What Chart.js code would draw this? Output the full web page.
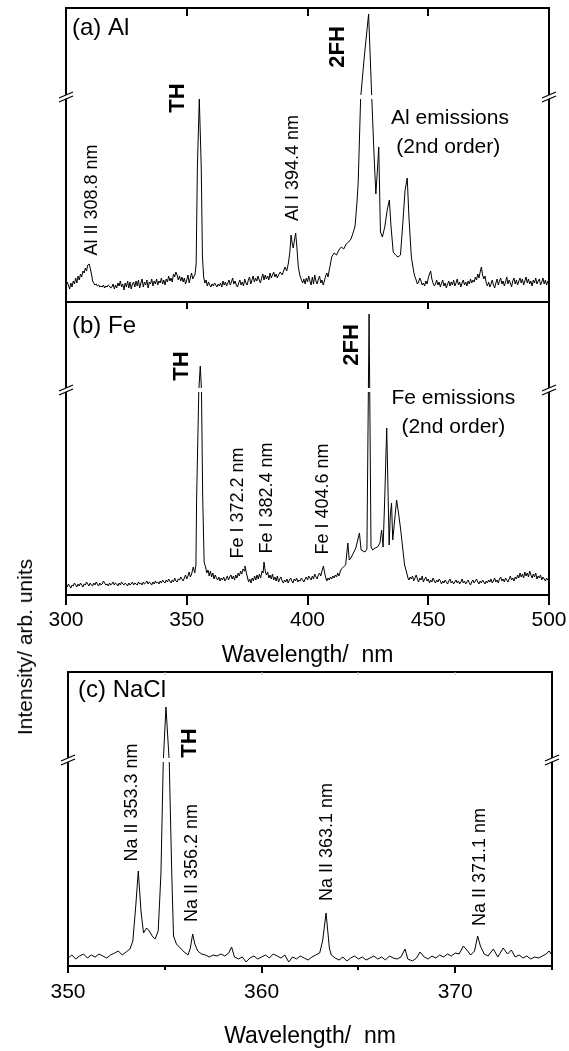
<!DOCTYPE html>
<html><head><meta charset="utf-8">
<script src="https://cdn.jsdelivr.net/npm/chart.js@4"></script>
<style>
html,body{margin:0;padding:0;background:#fff;width:569px;height:1051px;overflow:hidden;position:relative}
canvas{position:absolute;left:0}
#ylab{position:absolute;left:25px;top:647px;transform:translate(-50%,-50%) rotate(-90deg);font:21px "Liberation Sans",Arial,sans-serif;white-space:nowrap;color:#000}
</style></head><body>
<canvas id="ca" width="569" height="310" style="top:0"></canvas>
<canvas id="cb" width="569" height="390" style="top:290px"></canvas>
<canvas id="cc" width="569" height="391" style="top:660px"></canvas>
<div id="ylab">Intensity/ arb. units</div>
<script>
// ---- data: [wavelength nm, intensity (arb.)] ----
const specA = [[300,15],[300.5,20],[301,17],[301.5,13],[302,19],[302.5,15],[303,21],[303.5,18],[304,24],[304.5,19],[305,26],[305.5,22],[306,28],[306.5,25],[307,31],[307.5,29],[308,34],[308.5,31],[309,37],[309.6,38],[310.2,32],[310.7,26],[311,21],[311.5,19],[312,17],[312.5,18],[313,16],[313.5,17],[314,15],[314.5,16],[315,15],[315.5,17],[316,14],[316.5,16],[317,15],[317.5,17],[318,16],[318.5,14],[319,15],[319.5,18],[320,13],[320.5,17],[321,14],[321.5,19],[322,16],[322.5,21],[323,15],[323.5,18],[324,12],[324.5,19],[325,15],[325.5,21],[326,14],[326.5,20],[327,13],[327.5,18],[328,20],[328.5,15],[329,21],[329.5,16],[330,22],[330.5,14],[331,19],[331.5,23],[332,15],[332.5,20],[333,17],[333.5,22],[334,14],[334.5,20],[335,18],[335.5,23],[336,16],[336.5,21],[337,18],[337.5,23],[338,17],[338.5,21],[339,19],[339.5,24],[340,18],[340.5,22],[341,17],[341.5,23],[342,20],[342.5,26],[343,21],[343.5,24],[344,20],[344.5,28],[345,25],[345.5,30],[346,27],[346.5,22],[347,26],[347.5,21],[348,25],[348.5,20],[349,24],[349.5,18],[350,22],[350.5,27],[351,19],[351.5,24],[352,29],[352.5,23],[353,26],[353.4,27],[353.9,38],[354.4,135],[355.2,203],[356.0,135],[356.5,45],[357,25],[357.5,19],[358,22],[358.5,16],[359,20],[359.5,17],[360,15],[360.5,18],[361,16],[361.5,19],[362,17],[362.5,15],[363,18],[363.5,16],[364,19],[364.5,15],[365,21],[365.5,17],[366,20],[366.5,16],[367,19],[367.5,22],[368,17],[368.5,20],[369,24],[369.5,18],[370,21],[370.5,17],[371,15],[371.5,19],[372,22],[372.5,17],[373,20],[373.5,16],[374,23],[374.5,19],[375,17],[375.5,22],[376,25],[376.5,18],[377,22],[377.5,26],[378,20],[378.5,24],[379,21],[379.5,26],[380,22],[380.5,19],[381,24],[381.5,28],[382,22],[382.5,27],[383,23],[383.5,26],[384,22],[384.5,29],[385,24],[385.5,27],[386,30],[386.5,25],[387,28],[387.5,24],[388,27],[388.7,30],[389.5,27],[390.7,35],[391.4,31],[392.1,39],[392.7,50],[393.2,67],[393.7,58],[394.1,54],[394.6,62],[395.1,69],[395.6,55],[396.2,35],[396.8,27],[397.5,22],[398,19],[398.5,23],[399,18],[399.5,24],[400,20],[400.5,26],[401,21],[401.5,17],[402,25],[402.5,18],[403,27],[403.5,21],[404,18],[404.5,23],[405,26],[405.5,19],[406,22],[406.5,17],[407,21],[407.5,26],[408,29],[408.5,25],[409,32],[409.5,38],[410,45],[411,49],[412,47],[413,52],[414,55],[415,53],[416,58],[417,60],[418,63],[419,70],[419.7,76],[420.5,100],[421,120],[422,204],[423.5,245],[425.3,288],[426.6,205],[427.5,150],[428.3,108],[428.9,130],[429.5,155],[430.2,70],[431,65],[432,75],[433,92],[433.9,102],[434.6,75],[435.5,50],[436.5,47],[437.5,45],[438.5,47],[439.5,80],[440.4,112],[441.3,124],[442,85],[443,45],[444,30],[444.5,25],[445,22],[445.5,18],[446,20],[446.5,24],[447,21],[447.5,17],[448,19],[448.5,16],[449,21],[449.5,18],[450,24],[450.5,28],[451,31],[451.5,23],[452,19],[452.5,16],[453,18],[453.5,22],[454,17],[454.5,20],[455,15],[455.5,19],[456,22],[456.5,16],[457,19],[457.5,14],[458,18],[458.5,21],[459,16],[459.5,20],[460,17],[460.5,22],[461,16],[461.5,19],[462,23],[462.5,17],[463,20],[463.5,15],[464,19],[464.5,22],[465,17],[465.5,20],[466,16],[466.5,21],[467,18],[467.5,23],[468,19],[468.5,22],[469,20],[469.5,25],[470,22],[470.5,28],[471,24],[471.5,30],[472,35],[472.5,27],[473,23],[473.5,26],[474,19],[474.5,16],[475,20],[475.5,15],[476,18],[476.5,22],[477,17],[477.5,14],[478,19],[478.5,23],[479,17],[479.5,21],[480,24],[480.5,18],[481,21],[481.5,16],[482,20],[482.5,25],[483,18],[483.5,22],[484,19],[484.5,15],[485,21],[485.5,24],[486,18],[486.5,22],[487,17],[487.5,21],[488,24],[488.5,19],[489,23],[489.5,17],[490,21],[490.5,25],[491,19],[491.5,23],[492,18],[492.5,21],[493,16],[493.5,22],[494,19],[494.5,24],[495,18],[495.5,21],[496,23],[496.5,17],[497,20],[497.5,24],[498,18],[498.5,22],[499,17],[499.5,21],[500,19]];

const specB = [[300,10],[300.5,8],[301,11],[301.5,9],[302,7],[302.5,10],[303,9],[303.5,12],[304,10],[304.5,8],[305,11],[305.5,9],[306,12],[306.5,10],[307,8],[307.5,11],[308,10],[308.5,13],[309,11],[309.5,9],[310,12],[310.5,10],[311,9],[311.5,12],[312,10],[312.5,13],[313,11],[313.5,9],[314,12],[314.5,10],[315,11],[315.5,14],[316,12],[316.5,10],[317,11],[317.5,9],[318,12],[318.5,10],[319,11],[319.5,13],[320,10],[320.5,12],[321,11],[321.5,9],[322,12],[322.5,10],[323,13],[323.5,11],[324,10],[324.5,12],[325,11],[325.5,9],[326,12],[326.5,10],[327,11],[327.5,13],[328,10],[328.5,12],[329,11],[329.5,10],[330,13],[330.5,11],[331,12],[331.5,10],[332,13],[332.5,11],[333,12],[333.5,14],[334,11],[334.5,13],[335,12],[335.5,10],[336,13],[336.5,11],[337,14],[337.5,12],[338,13],[338.5,11],[339,14],[339.5,12],[340,15],[340.5,13],[341,12],[341.5,15],[342,13],[342.5,16],[343,14],[343.5,12],[344,15],[344.5,13],[345,17],[345.5,14],[346,13],[346.5,16],[347,15],[347.5,18],[348,16],[348.5,14],[349,17],[349.5,20],[350,16],[350.5,19],[351,23],[351.5,18],[352,21],[352.7,28],[353.3,22],[353.8,30],[354.1,98],[355.0,205],[355.6,229],[356.1,205],[356.6,98],[357.2,33],[357.8,28],[358.3,22],[358.8,25],[359.3,19],[359.8,24],[360.3,18],[360.8,22],[361.3,16],[361.8,20],[362.3,17],[362.8,15],[363.3,18],[363.8,14],[364.3,17],[364.8,15],[365.3,18],[365.8,14],[366.3,16],[366.8,19],[367.3,15],[367.8,18],[368.3,20],[368.8,16],[369.3,19],[369.8,15],[370.3,20],[370.8,17],[371.3,22],[371.8,19],[372.3,24],[372.8,21],[373.3,26],[373.8,24],[374.1,29],[374.6,23],[375.1,18],[375.6,13],[376.1,16],[376.6,12],[377.1,17],[377.6,14],[378.1,19],[378.6,15],[379.1,20],[379.6,16],[380.1,21],[380.6,17],[381.2,24],[381.6,22],[382,33],[382.5,24],[383,20],[383.5,23],[384,17],[384.5,20],[385,16],[385.5,21],[386,15],[386.5,18],[387,14],[387.5,19],[388,13],[388.5,16],[389,18],[389.5,14],[390,12],[390.5,15],[391,13],[391.5,16],[392,12],[392.5,15],[393,17],[393.5,14],[394,12],[394.5,16],[395,14],[395.5,17],[396,13],[396.5,15],[397,14],[397.5,17],[398,15],[398.5,13],[399,16],[399.5,18],[400,15],[400.5,19],[401,17],[401.5,15],[402,19],[402.5,16],[403,21],[403.5,18],[404,16],[404.5,20],[405,22],[405.5,19],[406,24],[406.6,29],[407.1,22],[407.6,17],[408,14],[408.5,17],[409,15],[409.5,18],[410,16],[410.5,19],[411,17],[411.5,20],[412,18],[412.5,22],[413,19],[413.5,23],[414,26],[414.9,28],[415.8,30],[416.7,52],[417.3,35],[418,37],[419,42],[420,47],[420.8,55],[421.5,62],[422.2,45],[423,44],[423.8,43],[424.6,46],[425.5,281],[426.3,48],[427,45],[428,47],[429,48],[430,52],[430.7,65],[431.3,48],[431.9,90],[432.8,167],[433.3,110],[433.8,50],[434.3,80],[434.8,92],[435.3,55],[435.9,70],[436.9,95],[437.8,80],[438.6,65],[439.5,45],[440.2,30],[441.1,22],[441.6,17],[442,15],[442.5,18],[443,16],[443.5,19],[444,14],[444.5,17],[445,20],[445.5,16],[446,13],[446.5,17],[447,15],[447.5,19],[448,13],[448.5,16],[449,18],[449.5,14],[450,16],[450.5,12],[451,15],[451.5,13],[452,17],[452.5,14],[453,12],[453.5,15],[454,13],[454.5,16],[455,14],[455.5,11],[456,14],[456.5,12],[457,15],[457.5,13],[458,11],[458.5,14],[459,16],[459.5,12],[460,14],[460.5,11],[461,13],[461.5,15],[462,12],[462.5,14],[463,11],[463.5,13],[464,16],[464.5,12],[465,14],[465.5,11],[466,13],[466.5,15],[467,12],[467.5,10],[468,13],[468.5,15],[469,12],[469.5,14],[470,16],[470.5,13],[471,11],[471.5,14],[472,12],[472.5,15],[473,13],[473.5,11],[474,14],[474.5,12],[475,15],[475.5,13],[476,16],[476.5,12],[477,14],[477.5,17],[478,13],[478.5,15],[479,12],[479.5,16],[480,18],[480.5,14],[481,16],[481.5,13],[482,17],[482.5,15],[483,13],[483.5,16],[484,19],[484.5,15],[485,17],[485.5,14],[486,18],[486.5,16],[487,20],[487.5,17],[488,22],[488.5,18],[489,21],[489.5,17],[490,23],[490.5,19],[491,22],[491.5,18],[492,24],[492.5,20],[493,17],[493.5,21],[494,18],[494.5,22],[495,16],[495.5,19],[496,17],[496.5,20],[497,15],[497.5,18],[498,16],[498.5,14],[499,17],[499.5,15],[500,16]];

const specC = [[350.0,8],[350.2,11],[350.4,7],[350.6,10],[350.8,12],[351.0,8],[351.2,11],[351.4,9],[351.6,12],[351.8,10],[352.0,8],[352.2,11],[352.4,13],[352.6,15],[352.8,11],[353.0,14],[353.2,17],[353.35,25],[353.5,60],[353.63,95],[353.77,55],[353.9,33],[354.06,38],[354.2,35],[354.35,30],[354.5,27],[354.66,35],[354.8,92],[354.92,204],[355.06,259],[355.23,204],[355.36,92],[355.45,30],[355.6,22],[355.8,18],[356.0,14],[356.2,11],[356.32,18],[356.44,32],[356.55,22],[356.7,15],[356.9,12],[357.1,11],[357.3,9],[357.5,11],[357.7,10],[357.9,12],[358.1,10],[358.3,13],[358.45,19],[358.6,9],[358.8,7],[359.0,9],[359.2,4],[359.4,8],[359.6,10],[359.8,7],[360.0,9],[360.2,11],[360.4,8],[360.6,12],[360.8,10],[361.0,8],[361.2,11],[361.4,4],[361.6,9],[361.8,7],[362.0,10],[362.2,8],[362.4,6],[362.6,9],[362.8,11],[363.0,13],[363.15,25],[363.33,53],[363.5,18],[363.6,11],[363.8,8],[364.0,6],[364.2,9],[364.4,5],[364.6,8],[364.8,10],[365.0,7],[365.2,9],[365.4,6],[365.6,8],[365.8,10],[366.0,7],[366.2,9],[366.4,6],[366.6,10],[366.8,8],[367.0,7],[367.2,9],[367.41,17],[367.55,7],[367.8,5],[368.0,8],[368.18,14],[368.4,9],[368.6,7],[368.8,10],[369.0,8],[369.2,11],[369.4,9],[369.6,12],[369.8,10],[370.0,13],[370.2,12],[370.42,20],[370.6,16],[370.8,11],[371.0,15],[371.16,30],[371.3,20],[371.5,12],[371.7,10],[371.97,17],[372.2,9],[372.48,18],[372.7,12],[372.9,16],[373.1,9],[373.3,11],[373.5,8],[373.7,10],[373.9,7],[374.1,9],[374.3,8],[374.5,10],[374.7,12],[374.85,15],[375.0,11]];

const xTicksAB = [300, 350, 400, 450, 500];
const xTicksC = [350, 360, 370];
const xMinorC = [355, 365, 375];
const xTitle = 'Wavelength/  nm';

const FONT = '"Liberation Sans", Arial, Helvetica, sans-serif';

const panelPlugin = {
  id: 'panel',
  afterDatasetsDraw(chart, args, o) {
    const {ctx, chartArea: ca, scales: {x, y}} = chart;
    ctx.save();
    ctx.fillStyle = '#fff';
    const by = y.getPixelForValue(o.breakAt);
    (o.gaps || []).forEach(g => {
      const x0 = x.getPixelForValue(g[0]), x1 = x.getPixelForValue(g[1]);
      ctx.fillRect(x0, by - 2, x1 - x0, 4);
    });
    ctx.strokeStyle = '#000';
    ctx.lineWidth = 2;
    ctx.strokeRect(ca.left, ca.top, ca.right - ca.left, ca.bottom - ca.top);
    const tk = (vals, yy, len, color, w) => {
      ctx.strokeStyle = color; ctx.lineWidth = w;
      vals.forEach(v => {
        const px = Math.round(x.getPixelForValue(v));
        ctx.beginPath(); ctx.moveTo(px, yy); ctx.lineTo(px, yy + len); ctx.stroke();
      });
    };
    (o.ticks || []).forEach(t => tk(t.values, t.side === 'top' ? ca.top : ca.bottom, t.len, t.color || '#000', t.w || 2));
    [ca.left, ca.right].forEach(ax => {
      ctx.fillStyle = '#fff';
      ctx.beginPath();
      ctx.moveTo(ax - 3, by + 3); ctx.lineTo(ax + 3, by + 0.5); ctx.lineTo(ax + 3, by - 3.5); ctx.lineTo(ax - 3, by - 1);
      ctx.closePath(); ctx.fill();
      ctx.strokeStyle = '#000'; ctx.lineWidth = 1.3;
      ctx.beginPath(); ctx.moveTo(ax - 7, by + 1); ctx.lineTo(ax + 7, by - 5); ctx.stroke();
      ctx.beginPath(); ctx.moveTo(ax - 7, by + 5); ctx.lineTo(ax + 7, by - 1); ctx.stroke();
    });
    ctx.fillStyle = '#000';
    ctx.font = '24px ' + FONT;
    ctx.textAlign = 'left'; ctx.textBaseline = 'middle';
    ctx.fillText(o.title, ca.left + o.titleDx, ca.top + o.titleDy);
    (o.notes || []).forEach(n => {
      ctx.save();
      ctx.translate(x.getPixelForValue(n.x), y.getPixelForValue(n.y));
      if (n.rot) ctx.rotate(-Math.PI / 2);
      ctx.font = (n.bold ? 'bold ' : '') + n.size + 'px ' + FONT;
      ctx.textAlign = 'center'; ctx.textBaseline = 'middle';
      ctx.fillText(n.text, 0, 0);
      ctx.restore();
    });
    ctx.restore();
  }
};

function makePanel(id, spec, xmin, xmax, step, ymax, pad, showX, axisH, titlePadB, tickPad, panelOpts) {
  return new Chart(document.getElementById(id), {
    type: 'line',
    data: { datasets: [{
      data: spec.map(p => ({x: p[0], y: p[1]})),
      borderColor: '#000', borderWidth: 1, pointRadius: 0, tension: 0, fill: false
    }]},
    options: {
      responsive: false, animation: false, events: [],
      layout: { padding: pad },
      plugins: { legend: {display: false}, tooltip: {enabled: false}, panel: panelOpts },
      scales: {
        x: {
          type: 'linear', min: xmin, max: xmax, display: showX,
          grid: {display: false, drawTicks: false}, border: {display: false},
          ticks: { stepSize: step, includeBounds: false, color: '#000', padding: tickPad,
                   font: {family: FONT, size: 21}, maxRotation: 0 },
          title: { display: true, text: xTitle, color: '#000', font: {family: FONT, size: 23},
                   padding: {top: 0, bottom: titlePadB} },
          afterFit: s => { s.height = axisH; s.paddingLeft = 0; s.paddingRight = 0; }
        },
        y: { type: 'linear', min: 0, max: ymax, display: false }
      }
    },
    plugins: [panelPlugin]
  });
}

makePanel('ca', specA, 300, 500, 50, 294, {top: 8, left: 66, right: 20, bottom: 8}, false, 0, 0, 0, {
  breakAt: 205, gaps: [[420.5, 427.5]],
  ticks: [{side: 'top', values: xTicksAB, len: 8}],
  title: '(a) Al', titleDx: 6, titleDy: 20,
  notes: [
    {text: 'Al II 308.8 nm', x: 310.6, y: 102, rot: true, size: 18},
    {text: 'TH', x: 346.5, y: 204, rot: true, size: 22, bold: true},
    {text: 'Al I 394.4 nm', x: 394.1, y: 134, rot: true, size: 18},
    {text: '2FH', x: 412.8, y: 255, rot: true, size: 22, bold: true},
    {text: 'Al emissions', x: 459.0, y: 184, size: 21},
    {text: '(2nd order)', x: 458.3, y: 155, size: 21}
  ]
});

makePanel('cb', specB, 300, 500, 50, 293, {top: 12, left: 66, right: 20, bottom: 0}, true, 85, 11, 13, {
  breakAt: 205, gaps: [[354, 357], [424.5, 426.5]],
  ticks: [{side: 'top', values: xTicksAB, len: 7}, {side: 'bottom', values: xTicksAB, len: 10}],
  title: '(b) Fe', titleDx: 6, titleDy: 24,
  notes: [
    {text: 'TH', x: 347.9, y: 229, rot: true, size: 22, bold: true},
    {text: 'Fe I 372.2 nm', x: 371.4, y: 92, rot: true, size: 18},
    {text: 'Fe I 382.4 nm', x: 383.1, y: 97, rot: true, size: 18},
    {text: 'Fe I 404.6 nm', x: 406.5, y: 96, rot: true, size: 18},
    {text: '2FH', x: 418.3, y: 250, rot: true, size: 22, bold: true},
    {text: 'Fe emissions', x: 460.4, y: 197, size: 21},
    {text: '(2nd order)', x: 460.4, y: 168, size: 21}
  ]
});

makePanel('cc', specC, 350, 375, 10, 294, {top: 12, left: 68, right: 17, bottom: 0}, true, 85, 1, 14, {
  breakAt: 206, gaps: [[354.7, 355.5]],
  ticks: [{side: 'bottom', values: xTicksC, len: 7}, {side: 'bottom', values: xMinorC, len: 4},
          {side: 'top', values: [355, 360, 365, 370], len: 3, color: '#bbb', w: 1}],
  title: '(c) NaCl', titleDx: 10, titleDy: 18,
  notes: [
    {text: 'Na II 353.3 nm', x: 353.29, y: 163.5, rot: true, size: 18},
    {text: 'TH', x: 356.3, y: 223, rot: true, size: 22, bold: true},
    {text: 'Na II 356.2 nm', x: 356.39, y: 103, rot: true, size: 18},
    {text: 'Na II 363.1 nm', x: 363.36, y: 124, rot: true, size: 18},
    {text: 'Na II 371.1 nm', x: 371.28, y: 99, rot: true, size: 18}
  ]
});
</script>
</body></html>
